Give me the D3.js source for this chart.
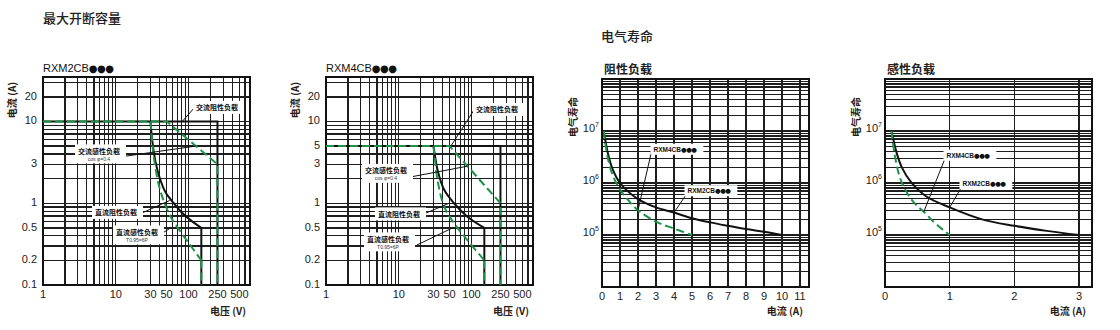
<!DOCTYPE html>
<html>
<head>
<meta charset="utf-8">
<script src="https://cdn.jsdelivr.net/npm/d3@7"></script>
<style>
  body { margin: 0; background: #fff; }
  svg { display: block; font-family: "Liberation Sans", "Noto Sans CJK SC", sans-serif; }
  .grid line { stroke: #1e1e1e; stroke-width: 1.3; shape-rendering: crispEdges; }
  .frame { fill: none; stroke: #111; stroke-width: 1.4; shape-rendering: crispEdges; }
  .tick { font-size: 11px; fill: #222; }
  .axis-title { font-size: 10px; font-weight: bold; fill: #2a1c14; font-family: "Noto Sans CJK SC", sans-serif; }
  .sec-title { font-size: 13px; font-weight: 500; fill: #222; font-family: "Noto Sans CJK SC", sans-serif; }
  .sub-title { font-size: 12px; font-weight: bold; fill: #222; font-family: "Noto Sans CJK SC", sans-serif; }
  .model { font-size: 11px; fill: #111; }
  .dots { font-family: "DejaVu Sans", sans-serif; }
  .co { font-size: 7px; font-weight: bold; fill: #111; font-family: "Noto Sans CJK SC", sans-serif; }
  .co.latin { font-family: "Liberation Sans", sans-serif; font-size: 6.5px; }
  .co-sub { font-size: 5px; fill: #333; }
  .leader { stroke: #111; stroke-width: 1; }
  .blk { fill: none; stroke: #111; stroke-width: 2; }
  .grn { fill: none; stroke: #1b9447; stroke-width: 2; stroke-dasharray: 8,4; }
</style>
</head>
<body>
<svg id="chart" width="1120" height="330"></svg>
<script>
// tick labels
const voltTicks = [1, 10, 30, 50, 100, 250, 500];
const ampTicksM2 = [0.1, 0.2, 0.5, 1, 3, 10, 20];
const ampTicksM4 = [0.1, 0.2, 0.5, 1, 3, 5, 10, 20];
const resAmpTicks = [0, 1, 2, 3, 4, 5, 6, 7, 8, 9, 10, 11];
const indAmpTicks = [0, 1, 2, 3];
const lifeTicks = [1e5, 1e6, 1e7];

// max breaking capacity, [volts, amps]
const m2AcRes = [[1, 10], [250, 10], [250, 0.1]];
const m2AcInd = [[1, 10], [50, 10], [250, 3], [250, 0.1]];
const m2DcRes = [[30, 10], [32, 5.5], [35, 3.3], [39.5, 2.14], [48.7, 1.34], [60, 1.05], [82, 0.76], [112, 0.6], [150, 0.5]];
const m2DcInd = [[30, 10], [31.5, 6], [33.7, 3.43], [39.5, 1.61], [48.7, 0.92], [60, 0.63], [101, 0.325], [150, 0.2]];

const m4AcRes = [[1, 5], [250, 5], [250, 0.1]];
const m4AcInd = [[1, 5], [50, 5], [250, 1], [250, 0.1]];
const m4DcRes = [[30, 5], [31.5, 3.8], [34, 2.59], [41.9, 1.47], [57.5, 1.0], [87, 0.69], [150, 0.5]];
const m4DcInd = [[30, 5], [31.5, 3.4], [34, 1.95], [41.9, 0.92], [57.5, 0.57], [87, 0.357], [150, 0.2]];

// electrical life, [amps, operations]
const resLifeM2 = [[0.1, 1e7], [0.33, 3.7e6], [0.6, 1.8e6], [1, 1e6], [2, 4.9e5], [3, 3.4e5], [4, 2.7e5], [5, 2.1e5], [6, 1.75e5], [7, 1.5e5], [8, 1.3e5], [9, 1.15e5], [10, 1e5]];
const resLifeM4 = [[0.1, 1e7], [0.3, 3.3e6], [0.6, 1.4e6], [1, 7.5e5], [1.5, 4.5e5], [2, 3e5], [3, 1.8e5], [4, 1.33e5], [5, 1e5]];
const indLifeM2 = [[0.1, 1e7], [0.18, 3.8e6], [0.26, 2e6], [0.4, 1.05e6], [0.64, 5.5e5], [1, 3.4e5], [1.5, 2e5], [2, 1.5e5], [2.5, 1.2e5], [3, 1e5]];
const indLifeM4 = [[0.1, 1e7], [0.15, 3.5e6], [0.22, 1.4e6], [0.3, 8e5], [0.4, 5e5], [0.5, 3.6e5], [0.6, 2.8e5], [0.75, 1.8e5], [0.9, 1.25e5], [1, 1e5]];

const $svg = d3.select('#chart');

// helper: grid + frame for a panel
function drawGrid($g, x, y, xGrid, yGrid) {
  const [x0, x1] = x.range();
  const [y0, y1] = y.range();
  const $grid = $g.append('g').attr('class', 'grid');
  $grid.selectAll('.v').data(xGrid).enter().append('line')
    .attr('x1', d => x(d)).attr('x2', d => x(d)).attr('y1', y0).attr('y2', y1);
  $grid.selectAll('.h').data(yGrid).enter().append('line')
    .attr('y1', d => y(d)).attr('y2', d => y(d)).attr('x1', x0).attr('x2', x1);
  $g.append('rect').attr('class', 'frame')
    .attr('x', x0).attr('y', y1).attr('width', x1 - x0).attr('height', y0 - y1);
}

// "RXM2CB" + three bullets, bullets from DejaVu so they stay small
function modelText($t, name, dotSize) {
  $t.append('tspan').text(name);
  $t.append('tspan').attr('class', 'dots').attr('font-size', dotSize).attr('letter-spacing', -0.5).text('●●●');
}

function callout($g, c, x, y) {
  const end = [x(c.at[0]), y(c.at[1])];
  $g.append('line').attr('class', 'leader')
    .attr('x1', c.from[0]).attr('y1', c.from[1]).attr('x2', end[0]).attr('y2', end[1]);
  const $c = $g.append('g');
  const $t = $c.append('text').attr('class', c.model ? 'co latin' : 'co').attr('x', c.tx).attr('y', c.ty)
    .attr('text-anchor', 'middle').attr('dominant-baseline', 'middle');
  if (c.model) modelText($t, c.model, 6.5);
  else $t.text(c.label);
  if (c.sub) {
    $c.append('text').attr('class', 'co-sub').attr('x', c.tx).attr('y', c.ty + 7.5)
      .attr('text-anchor', 'middle').attr('dominant-baseline', 'middle').text(c.sub);
  }
  const bb = $c.node().getBBox();
  $c.insert('rect', 'text').attr('fill', '#fff')
    .attr('x', bb.x - 3).attr('y', bb.y - 1.5).attr('width', bb.width + 9).attr('height', bb.height + 3);
}

function breakPanel(o) {
  const x = d3.scaleLog().domain([1, 700]).range([o.left, o.left + 207]);
  const y = d3.scaleLog().domain([0.1, 35]).range([285, 77]);
  const $g = $svg.append('g');
  drawGrid($g, x, y, x.ticks(), y.ticks());

  const line = d3.line().x(d => x(d[0])).y(d => y(d[1]));
  const curve = d3.line().x(d => x(d[0])).y(d => y(d[1])).curve(d3.curveCatmullRom.alpha(0.5));
  const drop = s => [s[s.length - 1], [s[s.length - 1][0], 0.1]];

  // black first, green dashed on top
  $g.append('path').attr('class', 'blk').attr('d', line(o.acRes));
  $g.append('path').attr('class', 'blk').attr('d', curve(o.dcRes));
  $g.append('path').attr('class', 'blk').attr('d', line(drop(o.dcRes)));
  $g.append('path').attr('class', 'grn').attr('d', line(o.acInd));
  $g.append('path').attr('class', 'grn').attr('d', curve(o.dcInd));
  $g.append('path').attr('class', 'grn').attr('d', line(drop(o.dcInd)));

  o.callouts.forEach(c => callout($g, c, x, y));

  $g.selectAll('.yt').data(o.ampTicks).enter().append('text').attr('class', 'tick')
    .attr('x', o.left - 6).attr('y', d => y(d)).attr('text-anchor', 'end')
    .attr('dominant-baseline', 'middle').text(d => d);
  $g.selectAll('.xt').data(voltTicks).enter().append('text').attr('class', 'tick')
    .attr('x', d => x(d)).attr('y', 298).attr('text-anchor', 'middle').text(d => d);

  modelText($g.append('text').attr('class', 'model').attr('x', o.left).attr('y', 72), o.model, 10);
  $g.append('text').attr('class', 'axis-title').attr('text-anchor', 'middle')
    .attr('transform', `translate(${o.left - 27},100) rotate(-90)`).text('电流 (A)');
  $g.append('text').attr('class', 'axis-title').attr('text-anchor', 'end')
    .attr('x', o.left + 203).attr('y', 315).text('电压 (V)');
}

function lifePanel(o) {
  const x = d3.scaleLinear().domain([0, o.xMax]).range([o.left, o.left + 207]);
  const y = d3.scaleLog().domain([1e4, 1e8]).range([287, 79]);
  const $g = $svg.append('g');
  drawGrid($g, x, y, o.xTicks, y.ticks());

  const curve = d3.line().x(d => x(d[0])).y(d => y(d[1])).curve(d3.curveCatmullRom.alpha(0.5));
  $g.append('path').attr('class', 'blk').attr('d', curve(o.m2));
  $g.append('path').attr('class', 'grn').attr('d', curve(o.m4));

  o.callouts.forEach(c => callout($g, c, x, y));

  const $yt = $g.selectAll('.yt').data(lifeTicks).enter().append('text').attr('class', 'tick')
    .attr('x', o.left - 3).attr('y', d => y(d) + 1).attr('text-anchor', 'end');
  $yt.append('tspan').text('10');
  $yt.append('tspan').attr('dy', -5).attr('font-size', 7).text(d => Math.round(Math.log10(d)));

  $g.selectAll('.xt').data(o.xTicks).enter().append('text').attr('class', 'tick')
    .attr('x', d => x(d)).attr('y', 300).attr('text-anchor', 'middle').text(d => d);

  $g.append('text').attr('class', 'sub-title').attr('x', o.left + 2).attr('y', 74).text(o.title);
  $g.append('text').attr('class', 'axis-title').attr('text-anchor', 'middle')
    .attr('transform', `translate(${o.left - 25},117) rotate(-90)`).text('电气寿命');
  $g.append('text').attr('class', 'axis-title').attr('text-anchor', 'end')
    .attr('x', o.left + 201).attr('y', 315).text('电流 (A)');
}

$svg.append('text').attr('class', 'sec-title').attr('x', 43).attr('y', 23).text('最大开断容量');
$svg.append('text').attr('class', 'sec-title').attr('x', 601).attr('y', 41).text('电气寿命');

breakPanel({
  left: 43, model: 'RXM2CB', ampTicks: ampTicksM2,
  acRes: m2AcRes, acInd: m2AcInd, dcRes: m2DcRes, dcInd: m2DcInd,
  callouts: [
    { label: '交流阻性负载', tx: 217, ty: 108.5, from: [195, 107], at: [82, 10] },
    { label: '交流感性负载', sub: 'cos φ=0.4', tx: 99, ty: 152, from: [123, 156.5], at: [125, 5] },
    { label: '直流阻性负载', tx: 116, ty: 213.5, from: [142, 213], at: [55, 1.08] },
    { label: '直流感性负载', sub: 'T0.95=6P', tx: 137, ty: 233, from: [161, 234], at: [57, 0.5] }
  ]
});

breakPanel({
  left: 326, model: 'RXM4CB', ampTicks: ampTicksM4,
  acRes: m4AcRes, acInd: m4AcInd, dcRes: m4DcRes, dcInd: m4DcInd,
  callouts: [
    { label: '交流阻性负载', tx: 497, ty: 110.5, from: [475, 108.5], at: [52, 5] },
    { label: '交流感性负载', sub: 'cos φ=0.4', tx: 386, ty: 171.5, from: [413, 176.5], at: [88, 2.84] },
    { label: '直流阻性负载', tx: 399, ty: 215, from: [425, 213.5], at: [49, 1] },
    { label: '直流感性负载', sub: 'T0.95=6P', tx: 388, ty: 240, from: [417, 245], at: [55, 0.5] }
  ]
});

lifePanel({
  left: 602, xMax: 11.5, xTicks: resAmpTicks, title: '阻性负载',
  m2: resLifeM2, m4: resLifeM4,
  callouts: [
    { model: 'RXM4CB', tx: 675, ty: 149.5, from: [652, 149.5], at: [2, 3e5] },
    { model: 'RXM2CB', tx: 709, ty: 191, from: [689, 190.5], at: [4, 2.7e5] }
  ]
});

lifePanel({
  left: 885, xMax: 3.2, xTicks: indAmpTicks, title: '感性负载',
  m2: indLifeM2, m4: indLifeM4,
  callouts: [
    { model: 'RXM4CB', tx: 968, ty: 155.5, from: [947, 153.5], at: [0.6, 2.8e5] },
    { model: 'RXM2CB', tx: 984, ty: 184, from: [964, 183], at: [1, 3.4e5] }
  ]
});
</script>
</body>
</html>
